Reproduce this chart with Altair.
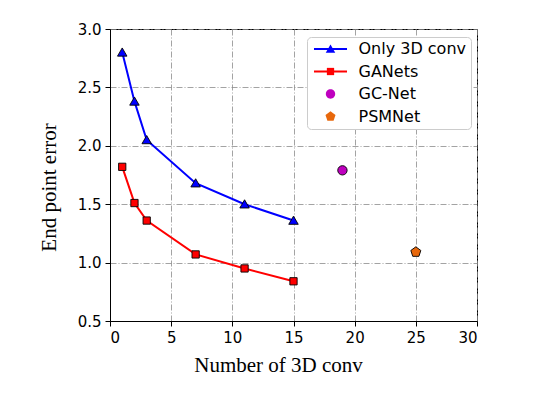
import altair as alt
import pandas as pd

series_names = ["Only 3D conv", "GANets", "GC-Net", "PSMNet"]
series_keys = ["s1", "s2", "s3", "s4"]
conv_counts = [1, 2, 3, 7, 11, 15]
only_3d_epe = [2.80, 2.38, 2.05, 1.68, 1.50, 1.36]
ganets_epe = [1.82, 1.51, 1.36, 1.07, 0.95, 0.84]
gcnet_x = [19]
gcnet_epe = [1.79]
psmnet_x = [25]
psmnet_epe = [1.09]
x_ticks = [0, 5, 10, 15, 20, 25, 30]
y_ticks = [0.5, 1.0, 1.5, 2.0, 2.5, 3.0]

series_colors = ["#0000ff", "#ff0000", "#bf00bf", "#e8680c"]
line_colors = ["#0000ff", "#ff0000", "transparent", "transparent"]

marker_paths = [
    "M0,-0.68L0.73,0.58L-0.73,0.58Z",
    "M-0.56,-0.56H0.56V0.56H-0.56Z",
    "M0.72,0A0.72,0.72 0 1,1 -0.72,0A0.72,0.72 0 1,1 0.72,0Z",
    "M0,-0.81L0.77,-0.25L0.476,0.655L-0.476,0.655L-0.77,-0.25Z",
]
legend_line_path = "M-2.54,0H2.54"

rows = []
for xs, ys, name, key in [
    (conv_counts, only_3d_epe, series_names[0], series_keys[0]),
    (conv_counts, ganets_epe, series_names[1], series_keys[1]),
    (gcnet_x, gcnet_epe, series_names[2], series_keys[2]),
    (psmnet_x, psmnet_epe, series_names[3], series_keys[3]),
]:
    for xv, yv in zip(xs, ys):
        rows.append({"x": xv, "epe": yv, "series": name, "key": key})
df = pd.DataFrame(rows)
line_df = df[df["series"].isin(series_names[:2])]

x_enc = alt.X(
    "x:Q",
    scale=alt.Scale(domain=[0, 30], nice=False),
    axis=alt.Axis(
        values=x_ticks, title="Number of 3D conv", format="d",
        titleX=168, titleY=50, titleAlign="center", titleBaseline="alphabetic",
    ),
)
y_enc = alt.Y(
    "epe:Q",
    scale=alt.Scale(domain=[0.5, 3.0], nice=False, zero=False),
    axis=alt.Axis(
        values=y_ticks, title="End point error", format=".1f",
        titleX=-55, titleY=158, titleAngle=270, titleAlign="center",
        titleBaseline="alphabetic",
    ),
)

common_legend = dict(
    title=None, orient="none", legendX=197, legendY=8,
    symbolSize=169, labelFont="DejaVu Sans", labelFontSize=16,
    labelColor="black", labelOffset=20, symbolOffset=11.5,
    padding=4, rowPadding=6.5,
)

legend_a = alt.Legend(
    symbolType=legend_line_path, symbolStrokeWidth=2,
    symbolFillColor="transparent", strokeColor="#cccccc",
    fillColor="white", cornerRadius=4, **common_legend,
)
legend_b = alt.Legend(
    symbolStrokeWidth=1, symbolStrokeColor="black", labelExpr="''",
    symbolOpacity=1, **common_legend,
)

lines = alt.Chart(line_df).mark_line(strokeWidth=2).encode(
    x=x_enc, y=y_enc,
    stroke=alt.Stroke(
        "series:N",
        scale=alt.Scale(domain=series_names, range=line_colors),
        legend=legend_a,
    ),
)

points = alt.Chart(df).mark_point(
    filled=True, size=169, stroke="black", strokeWidth=0.9, opacity=1
).encode(
    x=x_enc, y=y_enc,
    fill=alt.Fill("key:N", scale=alt.Scale(range=series_colors), legend=legend_b),
    shape=alt.Shape("key:N", scale=alt.Scale(range=marker_paths), legend=legend_b),
)

chart = (
    alt.layer(lines, points)
    .resolve_legend(stroke="independent", fill="independent", shape="independent")
    .properties(
        width=367, height=292,
        autosize=alt.AutoSizeParams(type="none"),
        padding={"left": 102, "top": 21, "right": 59, "bottom": 65},
    )
    .configure_view(stroke="black", strokeWidth=1)
    .configure_axis(
        labelFont="DejaVu Sans", labelFontSize=15, labelColor="black",
        tickColor="black", tickSize=5, domainColor="black", labelPadding=4,
        grid=True, gridColor="#8c8c8c", gridDash=[6, 2, 1, 2], gridWidth=0.8,
        titleFont="Liberation Serif", titleFontSize=21, titleFontWeight="normal",
        titleColor="black",
    )
)

chart.save("out.html", embed_options={"renderer": "svg", "actions": False})
